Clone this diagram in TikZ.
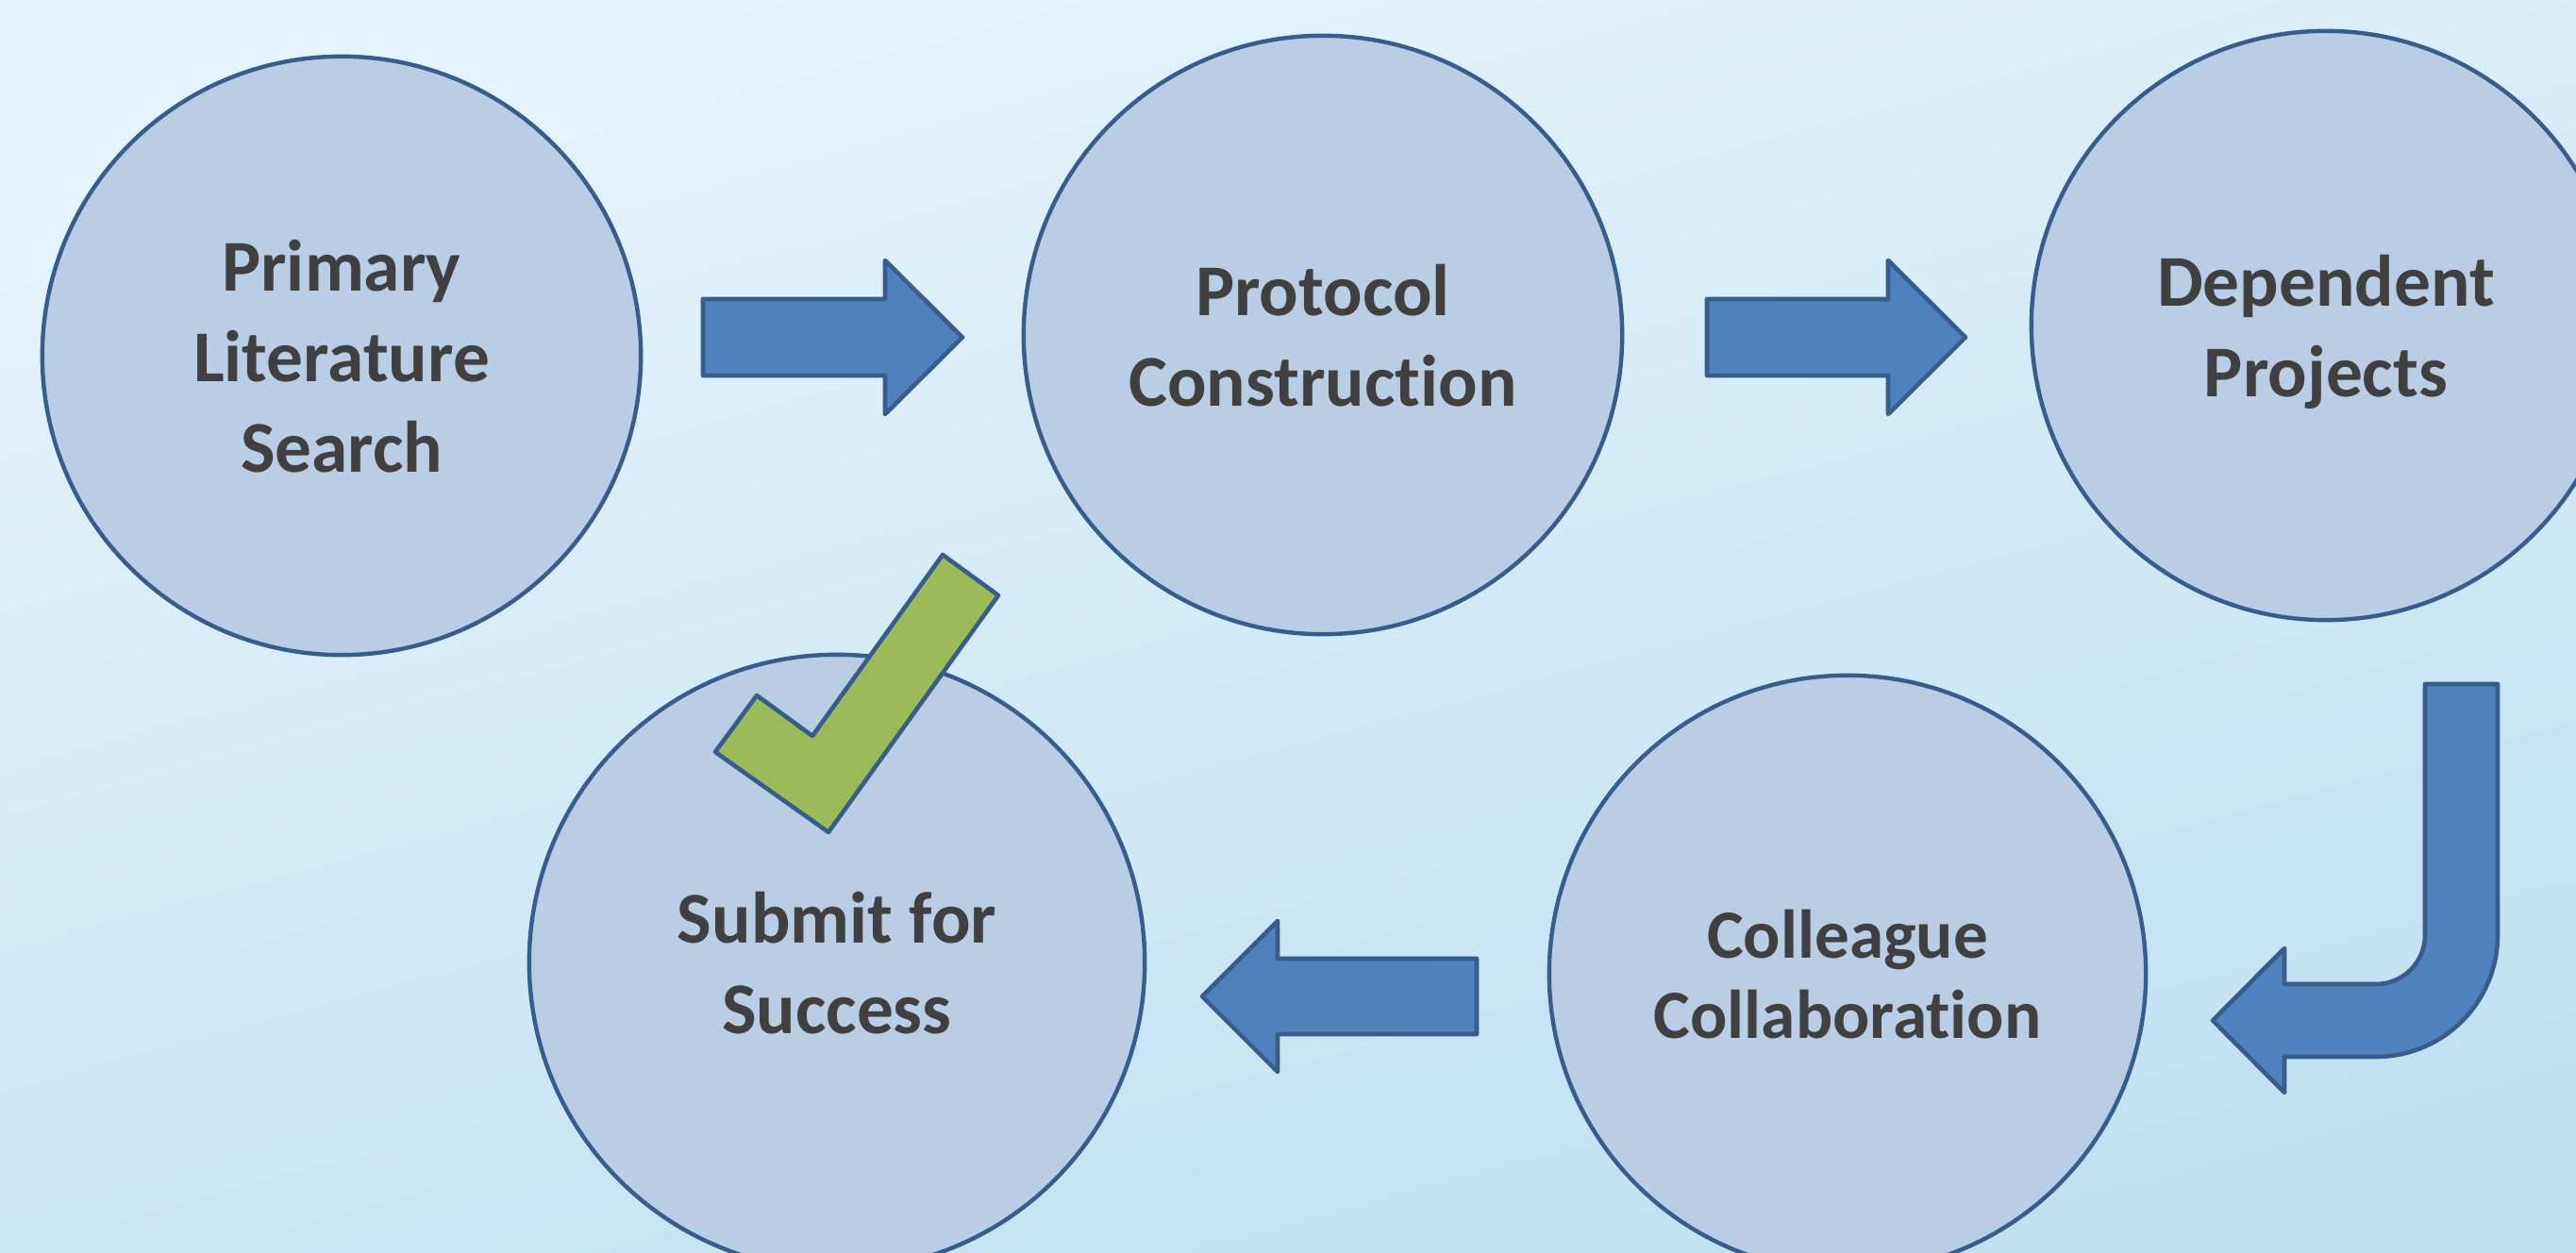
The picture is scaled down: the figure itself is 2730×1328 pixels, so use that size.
\documentclass[tikz,border=0pt]{standalone}
\usepackage{fontspec}
\setmainfont{Carlito}[Ligatures={NoCommon,NoContextual}]
\definecolor{bgtop}{HTML}{E4F4FC}
\definecolor{bgbot}{HTML}{C0E0F2}
\definecolor{discfill}{HTML}{B9CDE5}
\definecolor{edgeblue}{HTML}{385D8A}
\definecolor{arrowfill}{HTML}{4F81BD}
\definecolor{tickfill}{HTML}{9BBB59}
\definecolor{labelgray}{HTML}{404040}
\tikzset{
  stage/.style={circle, draw=edgeblue, fill=discfill, line width=1.25pt,
    text=labelgray, align=center, inner sep=0pt, text depth=0pt,
    font=\fontsize{22}{27.3}\selectfont\bfseries},
  blockarrow/.style={draw=edgeblue, fill=arrowfill, line width=1.3pt, line join=round},
  tick/.style={draw=edgeblue, fill=tickfill, line width=1.3pt, line join=round},
}
\begin{document}
\begin{tikzpicture}[x=0.01cm, y=-0.01cm]
\useasboundingbox (0,0) rectangle (2730,1328);
\clip (0,0) rectangle (2730,1328);
% soft sky background
\shade[top color=bgtop, bottom color=bgbot, shading angle=15] (-10,-10) rectangle (2740,1338);

% process stages
\node[stage, minimum size=6.34cm] (search) at (362,377) {Primary\\Literature\\Search};
\node[stage, minimum size=6.34cm] (protocol) at (1402,355) {Protocol\\Construction};
\node[stage, minimum size=6.24cm] (projects) at (2465,345) {Dependent\\Projects};
\node[stage, minimum size=6.52cm] (submit) at (887,1020) {Submit for\\Success};
\node[stage, minimum size=6.32cm, font=\fontsize{20.8}{24.2}\selectfont\bfseries] (colleague) at (1958,1032) {Colleague\\Collaboration};

% block arrows between stages
\draw[blockarrow] (745,317) -- (938,317) -- (938,276) -- (1020,357.5) -- (938,439) -- (938,398) -- (745,398) -- cycle;
\draw[blockarrow] (1809,317) -- (2001,317) -- (2001,276) -- (2083,357.5) -- (2001,439) -- (2001,398) -- (1809,398) -- cycle;
\draw[blockarrow] (2570,725) -- (2570,991) arc[start angle=0, end angle=90, radius=52]
  -- (2421,1043) -- (2421,1005) -- (2345,1081.5) -- (2421,1158) -- (2421,1120)
  -- (2518,1120) arc[start angle=90, end angle=0, radius=129] -- (2647,725) -- cycle;
\draw[blockarrow] (1565,1016) -- (1354,1016) -- (1354,976) -- (1274,1056) -- (1354,1136) -- (1354,1096) -- (1565,1096) -- cycle;

% check mark
\draw[tick] (999,588) -- (1058,631) -- (878,882) -- (758,797) -- (802,737) -- (861,780) -- cycle;
\end{tikzpicture}
\end{document}
